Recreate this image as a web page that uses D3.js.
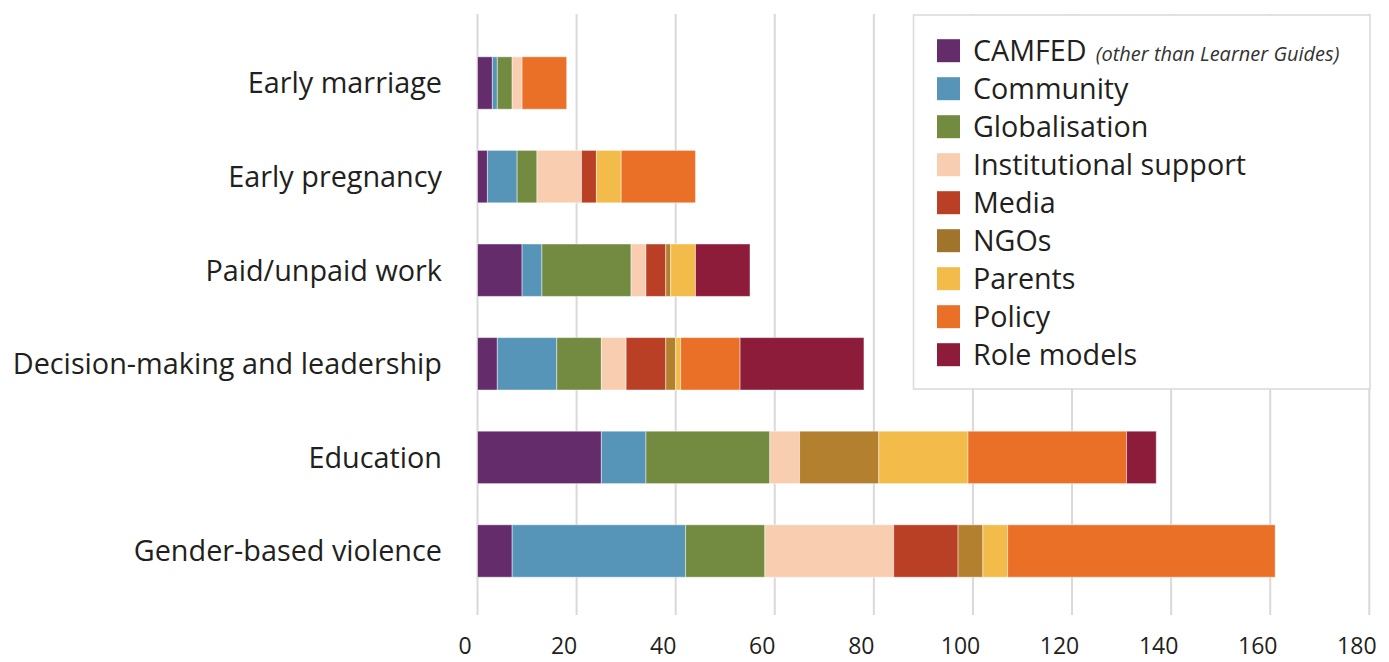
<!DOCTYPE html>
<html>
<head>
<meta charset="utf-8">
<script src="https://cdn.jsdelivr.net/npm/d3@7"></script>
<style>
  html, body { margin: 0; padding: 0; background: #fff; }
  svg { display: block; }
  text { font-family: "Open Sans", "Noto Sans", sans-serif; fill: #231f20; }
</style>
</head>
<body>
<svg id="chart" width="1389" height="662"></svg>
<script>
// ---- data ----
const categories = ["Early marriage", "Early pregnancy", "Paid/unpaid work",
  "Decision-making and leadership", "Education", "Gender-based violence"];
const seriesNames = ["CAMFED", "Community", "Globalisation", "Institutional support",
  "Media", "NGOs", "Parents", "Policy", "Role models"];
const seriesColors = ["#642c6b", "#5795b8", "#728b40", "#f8cdb0", "#b94025",
  "#b2802f", "#f3bb4a", "#eb7027", "#8d1c3b"];
const legendColors = ["#642c6b", "#5795b8", "#728b40", "#f8cdb0", "#b94025",
  "#a0742a", "#f3bb4a", "#eb7027", "#8d1c3b"];
// values per series, in category order
const camfed        = [3, 2, 9, 4, 25, 7];
const community     = [1, 6, 4, 12, 9, 35];
const globalisation = [3, 4, 18, 9, 25, 16];
const institutional = [2, 9, 3, 5, 6, 26];
const media         = [0, 3, 4, 8, 0, 13];
const ngos          = [0, 0, 1, 2, 16, 5];
const parents       = [0, 5, 5, 1, 18, 5];
const policy        = [9, 15, 0, 12, 32, 54];
const roleModels    = [0, 0, 11, 25, 6, 0];
const xTicks = [0, 20, 40, 60, 80, 100, 120, 140, 160, 180];
const legendNote = "(other than Learner Guides)";

const seriesValues = [camfed, community, globalisation, institutional, media,
  ngos, parents, policy, roleModels];

const rows = categories.map((c, i) => {
  const r = { category: c };
  seriesNames.forEach((s, j) => r[s] = seriesValues[j][i]);
  return r;
});

const svg = d3.select("#chart");

const x = d3.scaleLinear().domain([0, 180]).range([477.5, 1369.3]);
const y = d3.scaleBand().domain(categories).range([36.2, 597.8])
  .paddingInner(0.44).paddingOuter(0.22);

// gridlines
svg.append("g").selectAll("line").data(xTicks).join("line")
  .attr("x1", d => x(d)).attr("x2", d => x(d))
  .attr("y1", 14).attr("y2", 615)
  .attr("stroke", "#d9d9d9").attr("stroke-width", 2);

// stacked bars
const stack = d3.stack().keys(seriesNames);
const stacked = stack(rows);
const color = d3.scaleOrdinal().domain(seriesNames).range(seriesColors);

svg.append("g").selectAll("g").data(stacked).join("g")
  .attr("fill", d => color(d.key))
  .selectAll("rect").data(d => d.filter(p => p[1] - p[0] > 0)).join("rect")
  .attr("x", d => x(d[0]))
  .attr("width", d => x(d[1]) - x(d[0]))
  .attr("y", d => y(d.data.category))
  .attr("height", y.bandwidth())
  .attr("stroke", "rgba(255,255,255,0.45)")
  .attr("stroke-width", 1);

// category axis
const yAxis = svg.append("g").attr("transform", "translate(442,0)")
  .call(d3.axisLeft(y).tickSize(0).tickPadding(0));
yAxis.select(".domain").remove();
yAxis.selectAll("text")
  .style("font-size", "28.8px")
  .style("font-family", "'Open Sans', sans-serif")
  .attr("fill", "#231f20")
  .attr("dy", "0.36em");

// x axis labels
const xAxis = svg.append("g").attr("transform", "translate(0,615)")
  .call(d3.axisBottom(x).tickValues(xTicks).tickSize(0).tickPadding(0));
xAxis.select(".domain").remove();
xAxis.selectAll("text")
  .style("font-size", "23px")
  .style("font-family", "'Open Sans', sans-serif")
  .attr("fill", "#231f20")
  .attr("y", 39).attr("dy", "0").attr("dx", -13);

// legend
const lg = svg.append("g");
lg.append("rect").attr("x", 913.5).attr("y", 15).attr("width", 456.5).attr("height", 374)
  .attr("fill", "#fff").attr("stroke", "#d9d9d9").attr("stroke-width", 1.5);
const item = lg.selectAll("g.item").data(seriesNames).join("g").attr("class", "item")
  .attr("transform", (d, i) => `translate(937, ${50.7 + i * 38})`);
item.append("rect").attr("x", 0).attr("y", -11.5).attr("width", 23).attr("height", 23)
  .attr("fill", (d, i) => legendColors[i]);
const lt = item.append("text").attr("x", 36).attr("y", 0).attr("dy", "0.36em")
  .style("font-size", "28.7px");
lt.append("tspan").text(d => d);
lt.filter((d, i) => i === 0).append("tspan")
  .text("\u00a0" + legendNote).attr("dx", 4)
  .style("font-size", "20px").style("font-style", "italic").attr("fill", "#333");
</script>
</body>
</html>
